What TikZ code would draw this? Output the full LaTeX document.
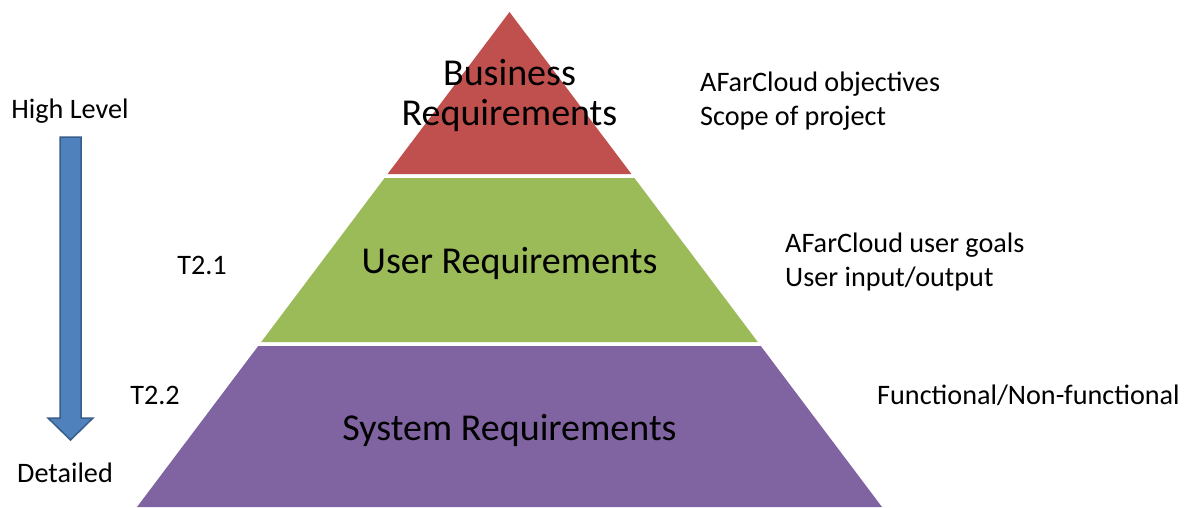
\documentclass[tikz,border=0pt]{standalone}
\usepackage{fontspec}
\setmainfont{Carlito}
\definecolor{bizred}{HTML}{C0504D}
\definecolor{usergreen}{HTML}{9BBB59}
\definecolor{syspurple}{HTML}{8064A2}
\definecolor{arrowblue}{HTML}{4F81BD}
\definecolor{arrowedge}{HTML}{385D8A}
\tikzset{
  layertext/.style={font=\fontsize{38}{40}\selectfont, align=center, inner sep=0pt},
  sidetext/.style={font=\fontsize{28.2}{34}\selectfont, align=left, inner sep=0pt},
  noteleft/.style={sidetext, anchor=west},
}
\begin{document}
\begin{tikzpicture}[x=1pt, y=-1pt]
\useasboundingbox (0,0) rectangle (1186,507);

% pyramid layers, separated by thin white gaps
\fill[bizred] (509.5,12) -- (631.4,174) -- (387.6,174) -- cycle;
\fill[usergreen] (384.6,178) -- (634.4,178) -- (757.8,342) -- (261.2,342) -- cycle;
\fill[syspurple] (258.2,346) -- (760.8,346) -- (882,507) -- (137,507) -- cycle;

\node[layertext] (biz) at (509.5,95) {Business\\Requirements};
\node[layertext] (user) at (509.5,263) {User Requirements};
\node[layertext] (sys) at (509.5,430) {System Requirements};

% level arrow
\node[sidetext] (high) at (70,111) {High Level};
\node[sidetext] (detail) at (65,473) {Detailed};
\fill[arrowblue, draw=arrowedge, line width=1.5pt, line join=miter]
  (60,137) -- (81,137) -- (81,418) -- (93,418) -- (70.5,440)
  -- (48,418) -- (60,418) -- cycle;

% task labels
\node[sidetext] (t21) at (202,265) {T2.1};
\node[sidetext] (t22) at (155,395) {T2.2};

% notes on each layer
\node[noteleft] (bizn) at (700,101) {AFarCloud objectives\\Scope of project};
\node[noteleft] (usern) at (785,262) {AFarCloud user goals\\User input/output};
\node[noteleft] (sysn) at (877,395) {Functional/Non-functional};
\end{tikzpicture}
\end{document}
